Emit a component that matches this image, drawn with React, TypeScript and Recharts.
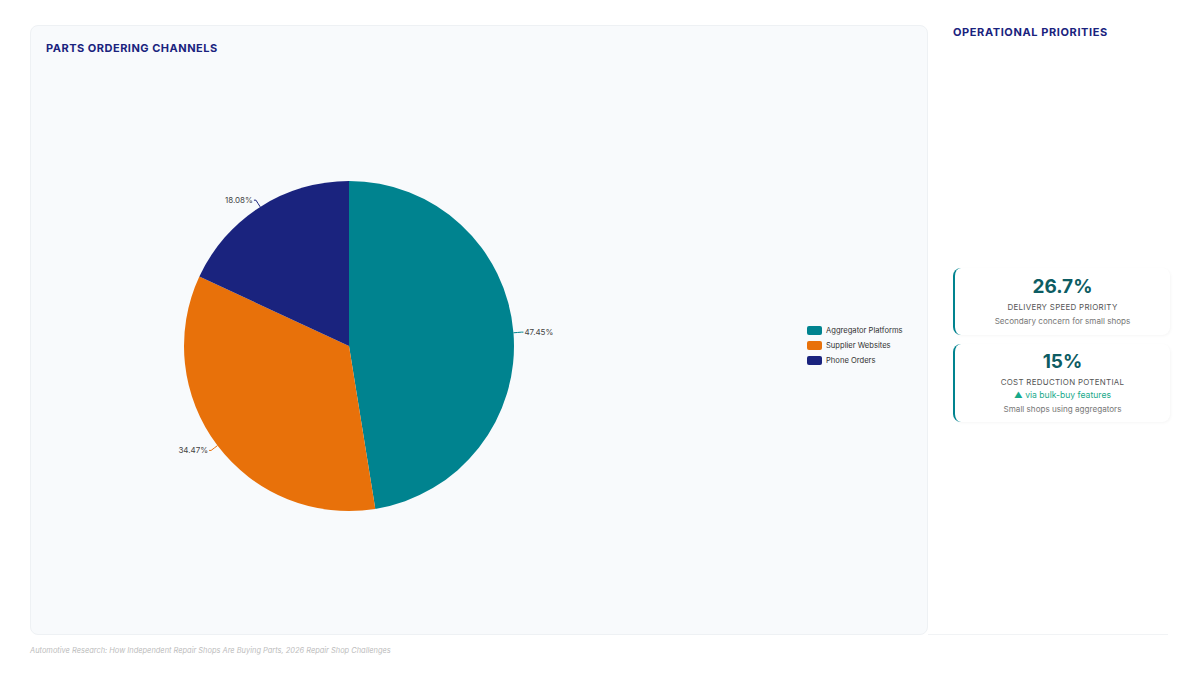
import React from "react";
import { PieChart, Pie, Cell, Legend } from "recharts";

const channelNames = ["Aggregator Platforms", "Supplier Websites", "Phone Orders"];
const channelShares = [47.45, 34.47, 18.08];
const channelColors = ["#00838F", "#E8710A", "#1A237E"];

const kpiValues = ["26.7%", "15%"];
const kpiLabels = ["DELIVERY SPEED PRIORITY", "COST REDUCTION POTENTIAL"];
const kpiTrends = ["", "▲ via bulk-buy features"];
const kpiNotes = ["Secondary concern for small shops", "Small shops using aggregators"];

const data = channelNames.map((name, i) => ({ name, value: channelShares[i] }));

const FONT = "Inter, 'Noto Sans', sans-serif";
const RAD = Math.PI / 180;
const LABEL_GAP = 8;

const renderLabel = (props: any) => {
  const { cx, cy, midAngle, outerRadius, value, index } = props;
  const r = outerRadius + LABEL_GAP;
  const cos = Math.cos(-midAngle * RAD);
  const sin = Math.sin(-midAngle * RAD);
  const x = cx + r * cos;
  const y = cy + r * sin;
  const right = cos >= 0;
  return (
    <text
      key={`lbl-${index}`}
      x={x + (right ? 3 : -3)}
      y={y}
      textAnchor={right ? "start" : "end"}
      dominantBaseline="central"
      fontSize={8}
      fill="#444"
      fontFamily={FONT}
    >
      {`${Number(value).toFixed(2)}%`}
    </text>
  );
};

const renderLabelLine = (props: any) => {
  const { cx, cy, midAngle, outerRadius, index } = props;
  const cos = Math.cos(-midAngle * RAD);
  const sin = Math.sin(-midAngle * RAD);
  const x1 = cx + outerRadius * cos;
  const y1 = cy + outerRadius * sin;
  const x2 = cx + (outerRadius + LABEL_GAP) * cos;
  const y2 = cy + (outerRadius + LABEL_GAP) * sin;
  const mx = cx + (outerRadius + LABEL_GAP / 2) * cos;
  const my = cy + (outerRadius + LABEL_GAP / 2) * sin;
  const right = cos >= 0;
  const ex = x2 + (right ? 2 : -2);
  return (
    <path
      key={`ll-${index}`}
      d={`M${x1},${y1} Q${mx},${my} ${x2},${y2} L${ex},${y2}`}
      stroke={channelColors[index]}
      fill="none"
      strokeWidth={1}
    />
  );
};

const renderLegend = (props: any) => {
  const payload = [...(props.payload || [])].sort(
    (a: any, b: any) => channelNames.indexOf(a.value) - channelNames.indexOf(b.value)
  );
  return (
    <div style={{ fontFamily: FONT }}>
      {payload.map((p: any, i: number) => (
        <div key={i} style={{ display: "flex", alignItems: "center", height: 15 }}>
          <span
            style={{
              width: 15,
              height: 9,
              borderRadius: 2,
              background: p.color,
              display: "inline-block",
              marginRight: 4,
            }}
          />
          <span style={{ fontSize: 7.6, color: "#333" }}>{p.value}</span>
        </div>
      ))}
    </div>
  );
};

const KpiCard = ({ i, top, height }: { i: number; top: number; height: number }) => (
  <div
    style={{
      position: "absolute",
      left: 953,
      top,
      width: 217,
      height,
      background: "#fff",
      borderLeft: "2px solid #00838F",
      borderRadius: 8,
      boxShadow: "1px 1px 3px rgba(0,0,0,0.04)",
      boxSizing: "border-box",
      textAlign: "center",
      fontFamily: FONT,
      display: "flex",
      flexDirection: "column",
      justifyContent: "center",
      alignItems: "center",
    }}
  >
    <div style={{ fontSize: 19, fontWeight: 700, color: "#0D5C63", lineHeight: "24px" }}>{kpiValues[i]}</div>
    <div style={{ fontSize: 7.9, color: "#555", letterSpacing: 0.3, lineHeight: "13px", marginTop: 2 }}>
      {kpiLabels[i]}
    </div>
    {kpiTrends[i] ? (
      <div style={{ fontSize: 8.6, color: "#17A98A", lineHeight: "13px" }}>{kpiTrends[i]}</div>
    ) : null}
    <div style={{ fontSize: 8.1, color: "#777", lineHeight: "14px" }}>{kpiNotes[i]}</div>
  </div>
);

export default function App() {
  return (
    <div
      style={{
        position: "absolute",
        left: 0,
        top: 0,
        width: 1200,
        height: 675,
        background: "#fff",
        fontFamily: FONT,
        overflow: "hidden",
      }}
    >
      <div
        style={{
          position: "absolute",
          left: 30,
          top: 25,
          width: 898,
          height: 610,
          background: "#F8FAFC",
          border: "1px solid #EEF1F4",
          borderRadius: 8,
          boxSizing: "border-box",
        }}
      >
        <div
          style={{
            position: "absolute",
            left: 15,
            top: 15,
            fontSize: 11,
            fontWeight: 700,
            letterSpacing: 0.5,
            color: "#1A237E",
          }}
        >
          PARTS ORDERING CHANNELS
        </div>
        <div style={{ position: "absolute", left: 0, top: 0 }}>
          <PieChart width={896} height={608} margin={{ top: 0, right: 0, bottom: 0, left: 0 }}>
            <Pie
              data={data}
              dataKey="value"
              nameKey="name"
              cx={318}
              cy={320}
              outerRadius={165}
              startAngle={90}
              endAngle={-270}
              stroke="none"
              isAnimationActive={false}
              label={renderLabel}
              labelLine={renderLabelLine}
            >
              {data.map((d, i) => (
                <Cell key={d.name} fill={channelColors[i]} />
              ))}
            </Pie>
            <Legend
              layout="vertical"
              align="right"
              verticalAlign="top"
              content={renderLegend}
              wrapperStyle={{ left: 776, top: 297, right: "auto", width: 120 }}
            />
          </PieChart>
        </div>
      </div>

      <div
        style={{
          position: "absolute",
          left: 928,
          top: 634,
          width: 240,
          height: 1,
          background: "#F1F3F5",
        }}
      />

      <div
        style={{
          position: "absolute",
          left: 953,
          top: 25,
          fontSize: 11,
          fontWeight: 700,
          letterSpacing: 0.6,
          color: "#1A237E",
        }}
      >
        OPERATIONAL PRIORITIES
      </div>

      <KpiCard i={0} top={268} height={67} />
      <KpiCard i={1} top={344} height={78} />

      <div
        style={{
          position: "absolute",
          left: 30,
          top: 646,
          fontSize: 7.45,
          fontStyle: "italic",
          color: "#BDBDBD",
        }}
      >
        Automotive Research: How Independent Repair Shops Are Buying Parts, 2026 Repair Shop Challenges
      </div>
    </div>
  );
}
